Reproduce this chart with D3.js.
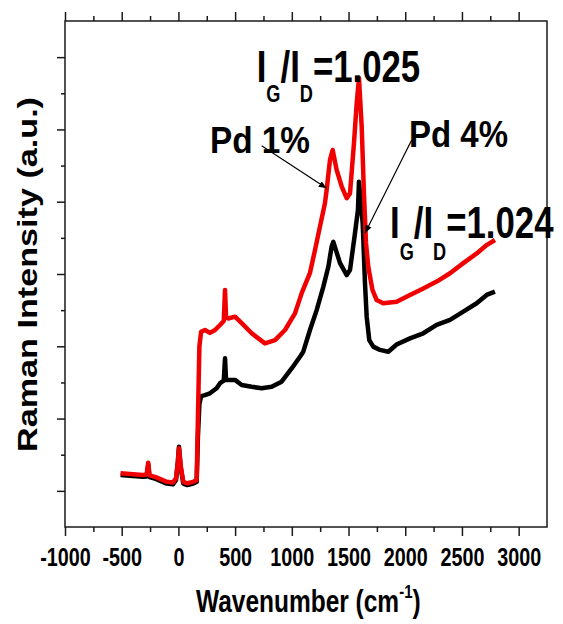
<!DOCTYPE html>
<html><head><meta charset="utf-8">
<script src="https://cdn.jsdelivr.net/npm/d3@7"></script>
<style>body{margin:0;background:#fff}svg{display:block}</style>
</head><body><svg id="c" width="563" height="624"></svg>
<script>
// Pd 1% (red) spectrum
const redX=[-510,-400,-312,-280,-266,-255,-200,-103,-48,-21,-5,5,20,43,78,131,161,172,185,200,234,278,323,367,400,411,420,440,499,558,646,763,852,940,1028,1087,1160,1204,1248,1292,1307,1336,1360,1395,1440,1484,1513,1548,1572,1592,1616,1636,1654,1674,1711,1748,1806,1924,2042,2159,2277,2395,2512,2630,2718,2791];
const redY=[49,46,44,45,78,43,38,25,23,35,80,118,70,25,21,25,30,200,400,440,445,437,445,459,470,556,480,477,482,464,436,408,417,445,491,547,603,666,731,796,832,915,943,888,842,810,823,962,1072,1142,1008,823,686,620,556,528,519,523,542,560,579,602,630,657,680,694];
// Pd 4% (black) spectrum
const blackX=[-510,-400,-312,-280,-266,-255,-200,-103,-48,-21,-5,5,20,43,78,131,161,172,185,200,234,278,337,367,400,411,420,440,499,558,646,734,822,910,1002,1072,1101,1160,1219,1278,1322,1351,1366,1395,1425,1484,1513,1557,1583,1592,1625,1645,1660,1683,1718,1777,1851,1924,2042,2159,2277,2395,2512,2630,2718,2791];
const blackY=[44,41,39,40,72,38,33,20,18,30,80,122,65,20,16,20,25,150,240,262,265,270,284,298,305,367,307,307,307,293,288,284,288,302,340,371,385,445,500,565,620,676,689,660,630,597,611,713,777,855,740,575,482,417,399,390,385,405,422,436,459,473,496,519,542,551];
const xMajor=[-1000,-500,0,500,1000,1500,2000,2500,3000];
const xMinor=[-750,-250,250,750,1250,1750,2250,2750];
const yMajor=[0,200,400,600,800,1000,1200];
const yMinor=[100,300,500,700,900,1100];
const xDomain=[-1000,3250], yDomain=[-100,1300];

const svg=d3.select('#c');
const L=65,R=547,T=21,B=527;
const x=d3.scaleLinear().domain(xDomain).range([L,R]);
const y=d3.scaleLinear().domain(yDomain).range([B,T]);
const FONT="'Liberation Sans', Arial, sans-serif";
const SQ=0.79;
function squeeze(sel){sel.each(function(){const l=this.getComputedTextLength();this.setAttribute('textLength',l*SQ);this.setAttribute('lengthAdjust','spacingAndGlyphs');});}

// lines
const line=d3.line().x(d=>x(d[0])).y(d=>y(d[1]));
svg.append('path').datum(blackX.map((v,i)=>[v,blackY[i]])).attr('d',line)
  .attr('fill','none').attr('stroke','#000').attr('stroke-width',4.5).attr('stroke-linejoin','round');
svg.append('path').datum(redX.map((v,i)=>[v,redY[i]])).attr('d',line)
  .attr('fill','none').attr('stroke','#f00000').attr('stroke-width',4.5).attr('stroke-linejoin','round');

// axes
function styleAxis(g){g.select('.domain').remove();g.selectAll('line').attr('stroke','#1a1a1a').attr('stroke-width',1.5);}
const gb=svg.append('g').attr('transform',`translate(0,${B})`)
  .call(d3.axisBottom(x).tickValues(xMajor).tickSize(9).tickSizeOuter(0).tickPadding(12).tickFormat(d=>String(d)));
styleAxis(gb);
gb.selectAll('text').attr('font-family',FONT).attr('font-weight','bold').attr('font-size',25).attr('fill','#000').call(squeeze);
svg.append('g').attr('transform',`translate(0,${B})`).call(d3.axisBottom(x).tickValues(xMinor).tickSize(5).tickFormat('')).call(styleAxis);
svg.append('g').attr('transform',`translate(0,${T})`).call(d3.axisTop(x).tickValues(xMajor).tickSize(9).tickFormat('')).call(styleAxis);
svg.append('g').attr('transform',`translate(0,${T})`).call(d3.axisTop(x).tickValues(xMinor).tickSize(5).tickFormat('')).call(styleAxis);
svg.append('g').attr('transform',`translate(${L},0)`).call(d3.axisLeft(y).tickValues(yMajor).tickSize(8).tickFormat('')).call(styleAxis);
svg.append('g').attr('transform',`translate(${L},0)`).call(d3.axisLeft(y).tickValues(yMinor).tickSize(4).tickFormat('')).call(styleAxis);
svg.append('rect').attr('x',L).attr('y',T).attr('width',R-L).attr('height',B-T)
  .attr('fill','none').attr('stroke','#1a1a1a').attr('stroke-width',1.5);

// axis titles
const xt=svg.append('text').attr('font-family',FONT).attr('font-weight','bold').attr('fill','#000')
  .attr('transform',`translate(196,612) scale(${SQ},1)`).attr('font-size',31);
xt.append('tspan').text('Wavenumber (cm');
xt.append('tspan').attr('font-size',19).attr('dy',-14).text('-1');
xt.append('tspan').attr('dy',14).text(')');
svg.append('text').attr('font-family',FONT).attr('font-weight','bold').attr('font-size',28).attr('fill','#000')
  .attr('text-anchor','middle').attr('transform','translate(36.5,274.5) rotate(-90)')
  .attr('textLength',355).attr('lengthAdjust','spacingAndGlyphs').text('Raman Intensity (a.u.)');

// annotations
function ratio(x0,yb,val,subDy){
  const t=svg.append('text').attr('font-family',FONT).attr('font-weight','bold').attr('fill','#000')
    .attr('font-size',44).attr('transform',`translate(${x0},${yb}) scale(${SQ},1)`);
  t.append('tspan').text('I');
  t.append('tspan').attr('font-size',23).attr('dy',subDy).text('G');
  t.append('tspan').attr('dy',-subDy).text('/I');
  t.append('tspan').attr('font-size',23).attr('dy',subDy).text('D');
  t.append('tspan').attr('dy',-subDy).text('='+val);
}
ratio(256.7,81.7,'1.025',20);
ratio(390,238.3,'1.024',22);
svg.append('text').attr('font-family',FONT).attr('font-weight','bold').attr('font-size',36).attr('fill','#000')
  .attr('x',210).attr('y',153).attr('textLength',100).attr('lengthAdjust','spacingAndGlyphs').text('Pd 1%');
svg.append('text').attr('font-family',FONT).attr('font-weight','bold').attr('font-size',36).attr('fill','#000')
  .attr('x',409).attr('y',147).attr('textLength',99).attr('lengthAdjust','spacingAndGlyphs').text('Pd 4%');

svg.append('defs').append('marker').attr('id','ah').attr('viewBox','0 0 10 10').attr('refX',10).attr('refY',5)
  .attr('markerWidth',8).attr('markerHeight',8).attr('markerUnits','userSpaceOnUse').attr('orient','auto')
  .append('path').attr('d','M0,1 L10,5 L0,9 Z').attr('fill','#000');
const arrows=[[[734,955],[1307,837]],[[2057,971],[1645,713]]];
arrows.forEach(a=>{
  svg.append('line').attr('x1',x(a[0][0])).attr('y1',y(a[0][1])).attr('x2',x(a[1][0])).attr('y2',y(a[1][1]))
    .attr('stroke','#000').attr('stroke-width',1.2).attr('marker-end','url(#ah)');
});
</script></body></html>
